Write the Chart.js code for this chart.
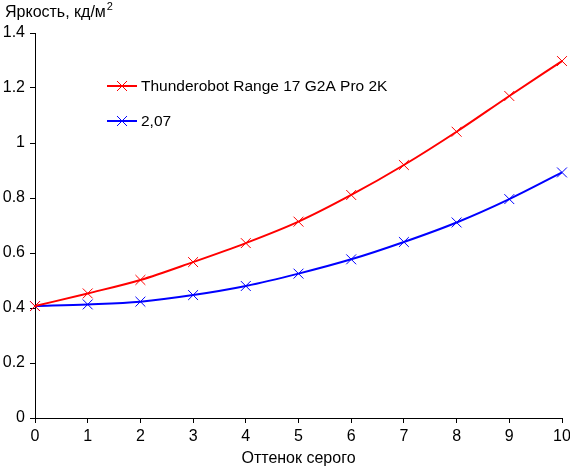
<!DOCTYPE html>
<html>
<head>
<meta charset="utf-8">
<script src="https://cdn.jsdelivr.net/npm/chart.js@4/dist/chart.umd.min.js"></script>
<style>
  html, body { margin: 0; padding: 0; background: #fff; }
  #wrap { width: 570px; height: 468px; }
</style>
</head>
<body>
<div id="wrap"><canvas id="chart" width="570" height="468"></canvas></div>
<script>
// ── Data ──────────────────────────────────────────────────────────
const grayLevels = [0, 1, 2, 3, 4, 5, 6, 7, 8, 9, 10];
const thunderobotValues = [0.407, 0.453, 0.502, 0.567, 0.636, 0.714, 0.811, 0.920, 1.041, 1.171, 1.298];
const gammaValues = [0.407, 0.413, 0.423, 0.447, 0.480, 0.525, 0.577, 0.640, 0.711, 0.796, 0.893];
const seriesLabels = ['Thunderobot Range 17 G2A Pro 2K', '2,07'];
const seriesColors = ['#ff0000', '#0000ff'];
const yTitle = 'Яркость, кд/м';
const yTitleSup = '2';
const xTitle = 'Оттенок серого';

const FONT = '"Liberation Sans", Arial, sans-serif';

function toPoints(values) {
    return grayLevels.map((x, i) => ({ x, y: values[i] }));
}

// legend inside the plot + y title at top-left
const overlayPlugin = {
    id: 'overlay',
    afterDraw(chart) {
        const ctx = chart.ctx;
        ctx.save();
        ctx.fillStyle = '#000';
        ctx.font = '16px ' + FONT;
        ctx.textBaseline = 'alphabetic';
        ctx.textAlign = 'left';
        ctx.fillText(yTitle, 5, 17);
        const w = ctx.measureText(yTitle).width;
        ctx.font = '11px ' + FONT;
        ctx.fillText(yTitleSup, 5 + w + 1, 10);

        chart.data.datasets.forEach((ds, i) => {
            const y = 86 + i * 35;
            ctx.strokeStyle = ds.borderColor;
            ctx.lineWidth = 2;
            ctx.beginPath();
            ctx.moveTo(107, y);
            ctx.lineTo(137, y);
            ctx.stroke();
            ctx.lineWidth = 1;
            ctx.beginPath();
            ctx.moveTo(117, y - 5); ctx.lineTo(127, y + 5);
            ctx.moveTo(117, y + 5); ctx.lineTo(127, y - 5);
            ctx.stroke();
            ctx.fillStyle = '#000';
            ctx.font = '15.5px ' + FONT;
            ctx.textBaseline = 'middle';
            ctx.fillText(ds.label, 141, y + 1);
        });
        ctx.restore();
    }
};

const datasets = [thunderobotValues, gammaValues].map((vals, i) => ({
    label: seriesLabels[i],
    data: toPoints(vals),
    borderColor: seriesColors[i],
    backgroundColor: seriesColors[i],
    borderWidth: 2,
    tension: 0.4,
    cubicInterpolationMode: 'monotone',
    pointStyle: 'crossRot',
    pointRadius: 7,
    pointBorderWidth: 1,
    pointBorderColor: seriesColors[i],
    clip: false,
    fill: false
}));

new Chart(document.getElementById('chart').getContext('2d'), {
    type: 'line',
    data: { datasets },
    options: {
        responsive: false,
        animation: false,
        devicePixelRatio: 1,
        layout: { padding: { left: 0, right: 8, top: 33, bottom: 0 } },
        plugins: {
            legend: { display: false },
            tooltip: { enabled: false }
        },
        scales: {
            x: {
                type: 'linear',
                min: 0,
                max: 10,
                ticks: { stepSize: 1, color: '#000', font: { family: FONT, size: 16 }, padding: 4, maxRotation: 0 },
                grid: { drawOnChartArea: false, drawTicks: true, tickLength: 5, color: '#000' },
                border: { display: true, color: '#000', width: 1 },
                title: { display: true, text: xTitle, color: '#000', font: { family: FONT, size: 16 }, padding: { top: 0, bottom: 0 } },
                afterFit(scale) {
                    scale.height = 50;
                    scale.paddingLeft = 0;
                    scale.paddingRight = 0;
                }
            },
            y: {
                min: 0,
                max: 1.4,
                ticks: {
                    stepSize: 0.2,
                    color: '#000',
                    font: { family: FONT, size: 16 },
                    padding: 5,
                    callback: v => String(Math.round(v * 10) / 10)
                },
                grid: { drawOnChartArea: false, drawTicks: true, tickLength: 5, color: '#000' },
                border: { display: true, color: '#000', width: 1 },
                afterFit(scale) {
                    scale.width = 35;
                    scale.paddingTop = 0;
                    scale.paddingBottom = 0;
                }
            }
        }
    },
    plugins: [overlayPlugin]
});
</script>
</body>
</html>
